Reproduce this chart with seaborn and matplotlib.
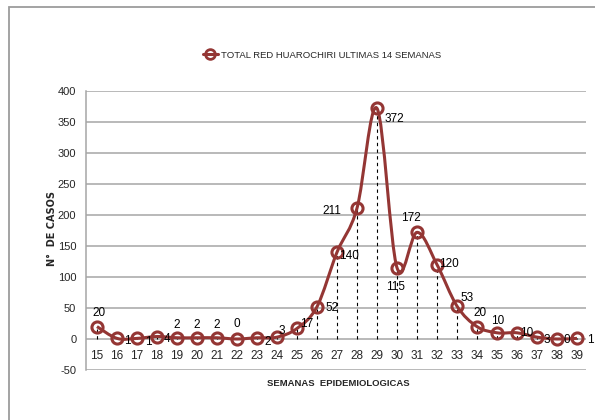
import pandas as pd
import matplotlib.pyplot as plt
import seaborn as sns
from matplotlib.path import Path
from matplotlib.patches import PathPatch, Rectangle
from matplotlib.lines import Line2D

# Datos: casos por semana epidemiologica
semanas = [15, 16, 17, 18, 19, 20, 21, 22, 23, 24, 25, 26, 27,
           28, 29, 30, 31, 32, 33, 34, 35, 36, 37, 38, 39]
casos = [20, 1, 1, 4, 2, 2, 2, 0, 2, 3, 17, 52, 140,
         211, 372, 115, 172, 120, 53, 20, 10, 10, 3, 0, 1]
serie = "TOTAL RED HUAROCHIRI ULTIMAS 14 SEMANAS"

# Desplazamiento de las etiquetas (pixeles)
desplaz = [(2, 14), (10, -3), (11, -4), (10, -2), (0, 13), (0, 13), (0, 13),
           (0, 15), (11, -4), (5, 6), (10, 4), (15, -1), (12, -4),
           (-25, -3), (17, -11), (-1, -19), (-6, 14), (12, 1), (10, 8),
           (3, 14), (1, 12), (10, 0), (10, -3), (10, -1), (13, -2)]

df = pd.DataFrame({"semana": semanas, "casos": casos})

sns.set_style("white")
plt.rcParams['font.family'] = ['Liberation Sans', 'DejaVu Sans']
plt.rcParams['axes.unicode_minus'] = False

color = "#943634"
fig = plt.figure(figsize=(5.95, 4.2), dpi=100)
ax = fig.add_axes([86 / 595, 1 - 370 / 420, 500 / 595, 279 / 420])

# Marco exterior del grafico
fig.patches.append(Rectangle((9 / 595, -0.1), 1.2, 1 - 7 / 420 + 0.1,
                             transform=fig.transFigure, fill=False,
                             edgecolor="#9c9c9c", linewidth=1.3))

# Lineas de caida
ax.vlines(df["semana"], 0, df["casos"], colors="black",
          linestyles=(0, (3, 3)), linewidth=0.8, zorder=2)

# Linea suavizada (Catmull-Rom -> Bezier)
pts = list(zip(df["semana"], df["casos"]))
verts = [pts[0]]
codes = [Path.MOVETO]
n = len(pts)
for i in range(n - 1):
    p0 = pts[i - 1] if i > 0 else pts[i]
    p1 = pts[i]
    p2 = pts[i + 1]
    p3 = pts[i + 2] if i + 2 < n else pts[i + 1]
    c1 = (p1[0] + (p2[0] - p0[0]) / 6, p1[1] + (p2[1] - p0[1]) / 6)
    c2 = (p2[0] - (p3[0] - p1[0]) / 6, p2[1] - (p3[1] - p1[1]) / 6)
    verts += [c1, c2, p2]
    codes += [Path.CURVE4] * 3
ax.add_patch(PathPatch(Path(verts, codes), fill=False, edgecolor=color,
                       linewidth=2.2, zorder=3))

sns.lineplot(data=df, x="semana", y="casos", ax=ax, linestyle="none",
             marker="o", markersize=8, markerfacecolor="none",
             markeredgecolor=color, markeredgewidth=2.2, zorder=4)

for s, c, (dx, dy) in zip(semanas, casos, desplaz):
    ax.annotate(str(c), (s, c), xytext=(dx, dy), textcoords="offset pixels",
                ha="center", va="center", fontsize=8.5, color="black", zorder=5)

ax.set_xlim(14.45, 39.45)
ax.set_ylim(-50, 400)
ax.set_yticks(range(-50, 401, 50))
ax.set_xticks(semanas)
ax.grid(axis="y", color="#a6a6a6", linewidth=1.1)
ax.set_axisbelow(True)
for side in ["top", "right"]:
    ax.spines[side].set_visible(False)
ax.spines["left"].set_color("#a6a6a6")
ax.spines["left"].set_linewidth(1.1)
ax.spines["bottom"].set_position(("data", 0))
ax.spines["bottom"].set_visible(False)
ax.tick_params(axis="y", length=4, color="#a6a6a6", labelsize=8, pad=3)
ax.tick_params(axis="x", length=0, labelsize=8.5, pad=8)
ax.set_xlabel("")
ax.set_ylabel("")

fig.text(338 / 595, 1 - 384 / 420, "SEMANAS  EPIDEMIOLOGICAS", ha="center",
         va="center", fontsize=6.8, fontweight="bold")
fig.text(52 / 595, 1 - 229 / 420, "N°  DE CASOS", ha="center", va="center",
         rotation=90, fontsize=7, fontweight="bold",
         family=["DejaVu Sans"])

handle = Line2D([0], [0], color=color, linewidth=2.2, marker="o",
                markersize=7, markerfacecolor="none", markeredgewidth=2)
fig.legend([handle], [serie], loc="center", bbox_to_anchor=(322 / 595, 1 - 55 / 420),
           frameon=False, fontsize=6.8, handlelength=1.6, handletextpad=0.3)

fig.savefig("out.png", dpi=100)
